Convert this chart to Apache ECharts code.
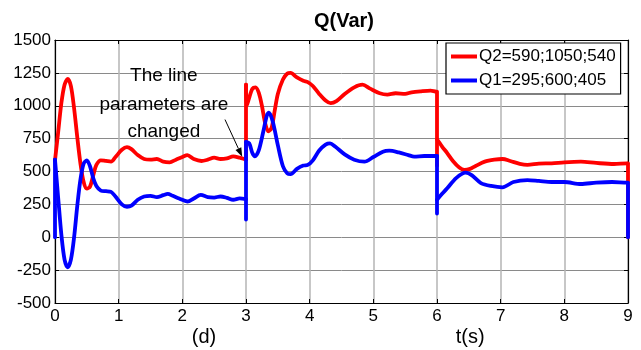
<!DOCTYPE html>
<html>
<head>
<meta charset="utf-8">
<script src="https://cdn.jsdelivr.net/npm/echarts@6/dist/echarts.min.js"></script>
<style>
  html, body { margin: 0; padding: 0; background: #fff; }
  #chart { width: 641px; height: 350px; }
</style>
</head>
<body>
<div id="chart"></div>
<script>
// Reactive power of the two sources over time (s); the line parameters change at t = 3 s and t = 6 s
const q2Name = 'Q2=590;1050;540';
const q1Name = 'Q1=295;600;405';

const q2Time = [0, 0.05, 0.1, 0.15, 0.2, 0.25, 0.3, 0.35, 0.4, 0.45, 0.5, 0.55, 0.6, 0.65, 0.72, 0.8, 0.88, 0.95,
  1.05, 1.13, 1.2, 1.3, 1.4, 1.5, 1.6, 1.7, 1.8, 1.9, 2.0, 2.08, 2.18, 2.3, 2.4, 2.5, 2.6, 2.7, 2.8, 2.9, 2.97,
  3.0, 3.0, 3.01, 3.05, 3.1, 3.15, 3.2, 3.25, 3.3, 3.35, 3.4, 3.45, 3.5, 3.58, 3.65, 3.7, 3.8, 3.9, 3.97,
  4.05, 4.15, 4.25, 4.33, 4.42, 4.55, 4.7, 4.83, 4.95, 5.1, 5.22, 5.35, 5.5, 5.6, 5.75, 5.9, 5.99,
  6.0, 6.0, 6.0, 6.08, 6.16, 6.25, 6.35, 6.43, 6.52, 6.6, 6.75, 6.9, 7.03, 7.15, 7.3, 7.42, 7.6, 7.8,
  8.0, 8.26, 8.5, 8.78, 8.99, 9.0, 9.0];
const q2Value = [585, 800, 1020, 1160, 1205, 1150, 980, 760, 560, 420, 370, 385, 470, 550, 585, 580, 575, 610,
  665, 685, 670, 625, 595, 590, 595, 575, 570, 590, 610, 625, 595, 580, 590, 605, 595, 600, 615, 605, 595,
  590, 1160, 1000, 1060, 1130, 1140, 1100, 1000, 870, 805, 830, 960, 1090, 1200, 1245, 1250, 1215, 1190, 1180,
  1150, 1090, 1040, 1020, 1035, 1090, 1140, 1160, 1130, 1095, 1085, 1095, 1090, 1102, 1110, 1115, 1108,
  1108, 545, 745, 690, 640, 580, 530, 512, 520, 540, 575, 590, 595, 580, 558, 550, 560, 562,
  570, 575, 565, 557, 562, 562, 0];

const q1Time = [0, 0, 0.05, 0.1, 0.15, 0.2, 0.25, 0.3, 0.35, 0.4, 0.45, 0.5, 0.55, 0.6, 0.65, 0.72, 0.8, 0.88, 0.95,
  1.05, 1.13, 1.2, 1.3, 1.4, 1.5, 1.6, 1.7, 1.77, 1.85, 1.95, 2.08, 2.18, 2.29, 2.4, 2.5, 2.6, 2.7, 2.8, 2.9,
  3.0, 3.0, 3.0, 3.05, 3.1, 3.14, 3.2, 3.27, 3.33, 3.36, 3.42, 3.5, 3.58, 3.65, 3.7, 3.8, 3.9, 3.97,
  4.05, 4.15, 4.25, 4.32, 4.4, 4.55, 4.7, 4.86, 5.0, 5.15, 5.25, 5.4, 5.55, 5.64, 5.8, 5.98,
  6.0, 6.0, 6.0, 6.08, 6.16, 6.3, 6.45, 6.55, 6.69, 6.85, 7.03, 7.2, 7.42, 7.6, 7.8,
  8.0, 8.26, 8.5, 8.75, 8.99, 9.0, 9.0];
const q1Value = [0, 590, 300, 20, -170, -228, -170, 0, 240, 440, 560, 585, 540, 450, 390, 355, 350, 345, 310,
  250, 232, 240, 285, 310, 315, 305, 320, 330, 315, 295, 272, 295, 322, 305, 302, 310, 300, 285, 295,
  290, 135, 725, 715, 640, 615, 660, 800, 930, 947, 880, 700, 540, 485, 480, 520, 545, 550,
  585, 660, 705, 714, 690, 630, 590, 575, 610, 650, 658, 645, 625, 613, 618, 618,
  618, 180, 285, 330, 372, 450, 491, 470, 412, 390, 380, 420, 435, 428, 420,
  420, 405, 415, 420, 415, 415, 0];

const xTicks = [0, 1, 2, 3, 4, 5, 6, 7, 8, 9];
const yTicks = [-500, -250, 0, 250, 500, 750, 1000, 1250, 1500];

const font = 'Arial, "Liberation Sans", sans-serif';

// Split a trace into smooth runs (time strictly increasing) and straight vertical jumps (same time)
function splitTrace(ts, vs) {
  const smooth = [], jumps = [];
  let cur = [[ts[0], vs[0]]];
  let curIsJump = false;
  for (let i = 1; i < ts.length; i++) {
    const p = [ts[i], vs[i]];
    const isJump = ts[i] === ts[i - 1];
    if (isJump === curIsJump) {
      cur.push(p);
    } else {
      (curIsJump ? jumps : smooth).push(cur);
      cur = [[ts[i - 1], vs[i - 1]], p];
      curIsJump = isJump;
    }
  }
  (curIsJump ? jumps : smooth).push(cur);
  return { smooth: smooth.filter(s => s.length > 1), jumps };
}

function traceSeries(name, ts, vs, color, z) {
  const parts = splitTrace(ts, vs);
  const base = {
    name, type: 'line', symbol: 'none', z,
    lineStyle: { color, width: 3.8, cap: 'round', join: 'round' },
    itemStyle: { color }
  };
  return [
    ...parts.smooth.map(d => ({ ...base, data: d, smooth: 0.3 })),
    ...parts.jumps.map(d => ({ ...base, data: d, smooth: false }))
  ];
}

const chart = echarts.init(document.getElementById('chart'), null, { renderer: 'canvas' });

const axisCommon = {
  axisLine: { show: true, onZero: false, lineStyle: { color: '#000', width: 1.2 } },
  axisTick: { show: true, inside: true, length: 4, lineStyle: { color: '#000' } }
};
const plainNumber = v => String(v);

chart.setOption({
  animation: false,
  backgroundColor: '#fff',
  title: {
    text: 'Q(Var)',
    left: 339, top: 6, textAlign: 'center',
    textStyle: { fontFamily: font, fontSize: 20, fontWeight: 'bold', color: '#000' }
  },
  grid: { left: 55, right: 13, top: 40, bottom: 47, show: false },
  legend: {
    data: [q2Name, q1Name],
    orient: 'vertical',
    left: 446, top: 43,
    padding: [5, 5, 5, 5],
    itemGap: 7,
    itemWidth: 26, itemHeight: 4,
    icon: 'rect',
    backgroundColor: '#fff',
    borderColor: '#000', borderWidth: 1.2,
    borderRadius: 0,
    textStyle: { fontFamily: font, fontSize: 17, color: '#000', padding: [0, 0, 0, -3] }
  },
  xAxis: [{
    type: 'value', min: xTicks[0], max: xTicks[xTicks.length - 1], interval: 1,
    ...axisCommon,
    axisLabel: { fontFamily: font, fontSize: 17, color: '#000', margin: 5, formatter: plainNumber },
    splitLine: { show: true, lineStyle: { color: '#b4b4b4', width: 1.5 } }
  }, {
    type: 'value', position: 'top', min: xTicks[0], max: xTicks[xTicks.length - 1], interval: 1,
    ...axisCommon,
    axisLabel: { show: false },
    splitLine: { show: false }
  }],
  yAxis: [{
    type: 'value', min: yTicks[0], max: yTicks[yTicks.length - 1], interval: 250,
    ...axisCommon,
    axisLabel: { fontFamily: font, fontSize: 17, color: '#000', margin: 4, formatter: plainNumber },
    splitLine: { show: true, lineStyle: { color: '#8a8a8a', width: 1 } }
  }, {
    type: 'value', position: 'right', min: yTicks[0], max: yTicks[yTicks.length - 1], interval: 250,
    ...axisCommon,
    axisLabel: { show: false },
    splitLine: { show: false }
  }],
  series: [
    ...traceSeries(q2Name, q2Time, q2Value, '#ff0000', 3),
    ...traceSeries(q1Name, q1Time, q1Value, '#0000ff', 4)
  ]
});

// Annotation text, arrow and axis captions placed in data coordinates
const px = (t, v) => chart.convertToPixel({ xAxisIndex: 0, yAxisIndex: 0 }, [t, v]);
const arrowFrom = px(2.67, 895);
const arrowTo = px(2.94, 612);
const ang = Math.atan2(arrowTo[1] - arrowFrom[1], arrowTo[0] - arrowFrom[0]);
const headLen = 9, headHalf = 3.2;
const bx = arrowTo[0] - headLen * Math.cos(ang), by = arrowTo[1] - headLen * Math.sin(ang);
const head = [
  arrowTo,
  [bx + headHalf * Math.sin(ang), by - headHalf * Math.cos(ang)],
  [bx - headHalf * Math.sin(ang), by + headHalf * Math.cos(ang)]
];
const noteLines = ['The line', 'parameters are', 'changed'];
const noteCenter = px(1.71, 0)[0];
const noteY = [76, 105, 132];

chart.setOption({
  graphic: [
    ...noteLines.map((s, i) => ({
      type: 'text', x: noteCenter, y: noteY[i],
      style: { text: s, fontFamily: font, fontSize: 19, fill: '#000', align: 'center', verticalAlign: 'middle' },
      z: 10
    })),
    {
      type: 'line', shape: { x1: arrowFrom[0], y1: arrowFrom[1], x2: bx, y2: by },
      style: { stroke: '#000', lineWidth: 1 }, z: 10
    },
    {
      type: 'polygon', shape: { points: head }, style: { fill: '#000' }, z: 10
    },
    {
      type: 'text', x: px(2.34, 0)[0], y: 337,
      style: { text: '(d)', fontFamily: font, fontSize: 20, fill: '#000', align: 'center', verticalAlign: 'middle' }
    },
    {
      type: 'text', x: px(6.52, 0)[0], y: 337,
      style: { text: 't(s)', fontFamily: font, fontSize: 20, fill: '#000', align: 'center', verticalAlign: 'middle' }
    }
  ]
});
</script>
</body>
</html>
